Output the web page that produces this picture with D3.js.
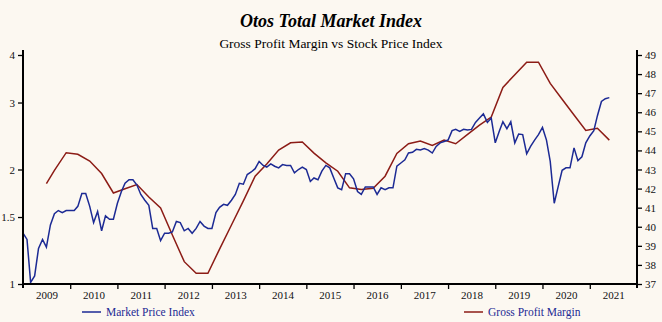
<!DOCTYPE html>
<html>
<head>
<meta charset="utf-8">
<script src="https://cdn.jsdelivr.net/npm/d3@7"></script>
<style>
  html, body { margin: 0; padding: 0; background: #fcf8f1; }
  svg { display: block; font-family: "Liberation Serif", "Times New Roman", serif; }
</style>
</head>
<body>
<div id="chart"></div>
<script>
const width = 662;
const height = 322;

// monthly market price index, starting Jan 2009
const priceStart = "2009-01";
const priceIndex = [
  1.36, 1.31, 1.01, 1.05, 1.24, 1.31, 1.25, 1.43, 1.53, 1.56, 1.54, 1.56,
  1.56, 1.56, 1.60, 1.73, 1.73, 1.60, 1.45, 1.55, 1.38, 1.51, 1.48, 1.48,
  1.63, 1.75, 1.84, 1.88, 1.88, 1.82, 1.72, 1.66, 1.61, 1.40, 1.40, 1.30,
  1.36, 1.36, 1.37, 1.46, 1.45, 1.38, 1.40, 1.36, 1.40, 1.46, 1.42, 1.40,
  1.40, 1.54, 1.59, 1.62, 1.61, 1.66, 1.72, 1.84, 1.83, 1.94, 1.97, 2.01,
  2.10, 2.05, 2.03, 2.07, 2.04, 2.02, 2.06, 2.05, 2.05, 1.96, 2.00, 2.03,
  2.00, 1.86, 1.90, 1.88, 1.98, 2.05, 2.02, 1.90, 1.79, 1.77, 1.95, 1.95,
  1.89, 1.75, 1.72, 1.80, 1.80, 1.80, 1.72, 1.79, 1.77, 1.79, 1.79, 2.04,
  2.08, 2.12, 2.21, 2.22, 2.26, 2.25, 2.27, 2.25, 2.21, 2.30, 2.35, 2.37,
  2.39, 2.53, 2.55, 2.52, 2.55, 2.54, 2.55, 2.66, 2.73, 2.80, 2.66, 2.73,
  2.35, 2.52, 2.67, 2.56, 2.67, 2.35, 2.48, 2.47, 2.20, 2.30, 2.39, 2.47,
  2.58, 2.39, 2.10, 1.63, 1.80, 1.99, 2.02, 2.02, 2.28, 2.11, 2.16, 2.35,
  2.45, 2.53, 2.77, 3.02, 3.07, 3.09
];

// quarterly gross profit margin (%)
const marginDates = [
  "2009-07", "2009-09", "2009-12",
  "2010-03", "2010-06", "2010-09", "2010-12",
  "2011-03", "2011-06", "2011-09", "2011-12",
  "2012-03", "2012-06", "2012-09", "2012-12",
  "2013-03", "2013-06", "2013-09", "2013-12",
  "2014-03", "2014-06", "2014-09", "2014-12",
  "2015-03", "2015-06", "2015-09", "2015-12",
  "2016-03", "2016-06", "2016-09", "2016-12",
  "2017-03", "2017-06", "2017-09", "2017-12",
  "2018-03", "2018-06", "2018-09", "2018-12",
  "2019-03", "2019-06", "2019-09", "2019-12",
  "2020-03", "2020-06", "2020-09", "2020-12",
  "2021-03", "2021-06"
];
const marginValues = [
  42.26, 42.95, 43.88,
  43.80, 43.44, 42.79, 41.77,
  41.99, 42.21, 41.56, 40.98,
  39.57, 38.17, 37.56, 37.56,
  38.83, 40.09, 41.36, 42.65,
  43.29, 44.02, 44.40, 44.44,
  43.86, 43.35, 42.91, 42.04,
  41.95, 42.02, 42.65, 43.84,
  44.35, 44.49, 44.26, 44.54,
  44.35, 44.84, 45.32, 45.75,
  47.30, 47.97, 48.62, 48.62,
  47.51, 46.68, 45.86, 45.05,
  45.16, 44.54
];

const years = d3.range(2009, 2022);
const leftTicks = [1, 1.5, 2, 3, 4];
const rightTicks = d3.range(37, 50);

const title = "Otos Total Market Index";
const subtitle = "Gross Profit Margin vs Stock Price Index";
const priceLabel = "Market Price Index";
const marginLabel = "Gross Profit Margin";

const blue = "#1c2a94";
const red = "#8c1c16";

const parseMonth = d3.timeParse("%Y-%m");
const start = parseMonth(priceStart);
const priceData = priceIndex.map((v, i) => ({ date: d3.timeMonth.offset(start, i), value: v }));
const marginData = marginDates.map((d, i) => ({ date: parseMonth(d), value: marginValues[i] }));

const plot = { left: 23, right: 637, top: 55, bottom: 284 };

const svg = d3.select("#chart").append("svg")
  .attr("width", width)
  .attr("height", height);

svg.append("rect").attr("width", width).attr("height", height).attr("fill", "#fcf8f1");

const x = d3.scaleTime()
  .domain([new Date(2009, 0, 1), new Date(2022, 0, 1)])
  .range([plot.left, plot.right]);

const yLeft = d3.scaleLog()
  .domain([1, 4])
  .range([plot.bottom, plot.top]);

const yRight = d3.scaleLinear()
  .domain([37, 49])
  .range([plot.bottom, plot.top]);

// titles
svg.append("text")
  .attr("x", width / 2)
  .attr("y", 27)
  .attr("text-anchor", "middle")
  .attr("font-size", 18)
  .attr("font-weight", "bold")
  .attr("font-style", "italic")
  .text(title);

svg.append("text")
  .attr("x", width / 2)
  .attr("y", 48)
  .attr("text-anchor", "middle")
  .attr("font-size", 13.5)
  .text(subtitle);

// lines
const priceLine = d3.line()
  .x((d) => x(d.date))
  .y((d) => yLeft(d.value));

const marginLine = d3.line()
  .x((d) => x(d.date))
  .y((d) => yRight(d.value));

svg.append("path")
  .datum(marginData)
  .attr("fill", "none")
  .attr("stroke", red)
  .attr("stroke-width", 1.5)
  .attr("d", marginLine);

svg.append("path")
  .datum(priceData)
  .attr("fill", "none")
  .attr("stroke", blue)
  .attr("stroke-width", 1.5)
  .attr("d", priceLine);

// axes
function styleAxis(g) {
  g.select(".domain").remove();
  g.selectAll(".tick line").attr("stroke", "#000").attr("stroke-width", 1.3);
  g.selectAll(".tick text")
    .attr("fill", "#111")
    .attr("font-size", 11)
    .attr("font-family", "Liberation Serif, Times New Roman, serif");
}

svg.append("g")
  .attr("transform", `translate(${plot.left},0)`)
  .call(d3.axisLeft(yLeft).tickValues(leftTicks).tickFormat(d3.format("")).tickSize(5).tickPadding(3))
  .call(styleAxis);

svg.append("g")
  .attr("transform", `translate(${plot.right},0)`)
  .call(d3.axisRight(yRight).tickValues(rightTicks).tickSize(5).tickPadding(3))
  .call(styleAxis);

// year ticks at boundaries, labels mid-year
svg.append("g")
  .attr("transform", `translate(0,${plot.bottom})`)
  .call(d3.axisBottom(x).tickValues(years.slice(1).map((y) => new Date(y, 0, 1))).tickFormat("").tickSize(5))
  .call(styleAxis);

svg.append("g")
  .attr("transform", `translate(0,${plot.bottom})`)
  .call(d3.axisBottom(x).tickValues(years.map((y) => new Date(y, 6, 1))).tickFormat(d3.timeFormat("%Y")).tickSize(0).tickPadding(7))
  .call(styleAxis);

// axis lines
svg.append("line")
  .attr("x1", plot.left).attr("x2", plot.left)
  .attr("y1", plot.top - 5).attr("y2", plot.bottom + 4)
  .attr("stroke", "#000").attr("stroke-width", 2);
svg.append("line")
  .attr("x1", plot.right).attr("x2", plot.right)
  .attr("y1", plot.top - 5).attr("y2", plot.bottom + 4)
  .attr("stroke", "#000").attr("stroke-width", 2);
svg.append("line")
  .attr("x1", plot.left).attr("x2", plot.right)
  .attr("y1", plot.bottom).attr("y2", plot.bottom)
  .attr("stroke", "#000").attr("stroke-width", 2);

// legend
const legendItems = [
  { label: priceLabel, color: blue, x: 82 },
  { label: marginLabel, color: red, x: 464 }
];

const legend = svg.selectAll(".legend")
  .data(legendItems)
  .enter()
  .append("g")
  .attr("class", "legend")
  .attr("transform", (d) => `translate(${d.x},312)`);

legend.append("line")
  .attr("x1", 0).attr("x2", 19)
  .attr("stroke", (d) => d.color)
  .attr("stroke-width", 1.5);

legend.append("text")
  .attr("x", 24)
  .attr("dy", "0.35em")
  .attr("font-size", 11.5)
  .attr("fill", blue)
  .text((d) => d.label);
</script>
</body>
</html>
